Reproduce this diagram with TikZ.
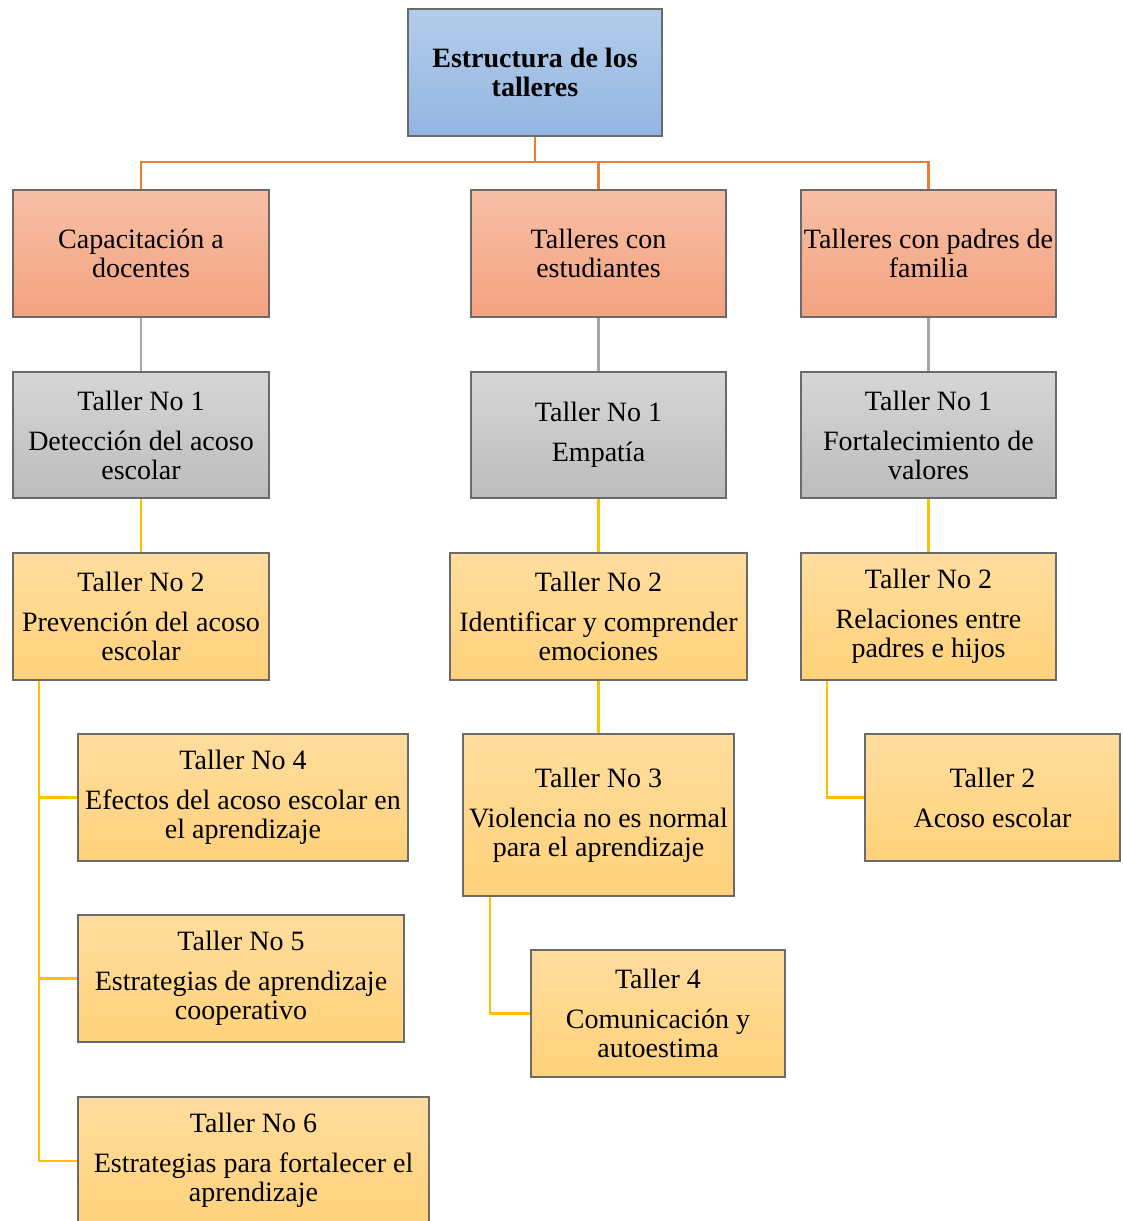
\documentclass[tikz,border=0pt]{standalone}
\usepackage{fontspec}
\setmainfont{Liberation Serif}
\usetikzlibrary{fit}
\definecolor{bordc}{HTML}{6A6A6A}
\definecolor{blueT}{HTML}{B3CCEA}
\definecolor{blueB}{HTML}{93B6E2}
\definecolor{orT}{HTML}{F7BFA6}
\definecolor{orB}{HTML}{F4A27F}
\definecolor{grT}{HTML}{D6D6D6}
\definecolor{grB}{HTML}{BCBCBC}
\definecolor{yeT}{HTML}{FFDD9E}
\definecolor{yeB}{HTML}{FFD27A}
\definecolor{lnOr}{HTML}{ED7D31}
\definecolor{lnGr}{HTML}{A5A5A5}
\definecolor{lnYe}{HTML}{FFC000}
\tikzset{
  x=0.75pt, y=-0.75pt,
  txt/.style={inner sep=0pt, align=center, font=\fontsize{21}{21.75}\selectfont},
  box/.style={draw=bordc, line width=0.8pt, inner sep=0pt},
  bluebox/.style={box, top color=blueT, bottom color=blueB},
  orbox/.style={box, top color=orT, bottom color=orB},
  grbox/.style={box, top color=grT, bottom color=grB},
  yebox/.style={box, top color=yeT, bottom color=yeB},
  lor/.style={draw=lnOr, line width=2.2pt},
  lgr/.style={draw=lnGr, line width=1.6pt},
  lye/.style={draw=lnYe, line width=2.2pt},
}
\newcommand{\gp}{\\[8.25pt]}
\newcommand{\bx}[5]{\node[#1, fit={#3}, label={[txt]center:{#4}}] (#2) {};}
\begin{document}
\begin{tikzpicture}
\clip (0,0) rectangle (1123,1221);
\fill[white] (0,0) rectangle (1123,1221);
% boxes
\bx{bluebox}{top}{(408,9)(662,136)}{\bfseries Estructura de los\\\bfseries talleres}{}
\bx{orbox}{o1}{(13,190)(269,317)}{Capacitación a\\docentes}{}
\bx{orbox}{o2}{(471,190)(726,317)}{Talleres con\\estudiantes}{}
\bx{orbox}{o3}{(801,190)(1056,317)}{Talleres con padres de\\familia}{}
\bx{grbox}{g1}{(13,372)(269,498)}{Taller No 1\gp Detección del acoso\\escolar}{}
\bx{grbox}{g2}{(471,372)(726,498)}{Taller No 1\gp Empatía}{}
\bx{grbox}{g3}{(801,372)(1056,498)}{Taller No 1\gp Fortalecimiento de\\valores}{}
\bx{yebox}{y1}{(13,553)(269,680)}{Taller No 2\gp Prevención del acoso\\escolar}{}
\bx{yebox}{y2}{(450,553)(747,680)}{Taller No 2\gp Identificar y comprender\\emociones}{}
\bx{yebox}{y3}{(801,553)(1056,680)}{Taller No 2\gp Relaciones entre\\padres e hijos}{}
\bx{yebox}{t4}{(78,734)(408,861)}{Taller No 4\gp Efectos del acoso escolar en\\el aprendizaje}{}
\bx{yebox}{t5}{(78,915)(404,1042)}{Taller No 5\gp Estrategias de aprendizaje\\cooperativo}{}
\node[yebox, fit={(78,1097)(429,1225)}] (t6) {};
\node[txt] (t6t) at (253.5,1160) {Taller No 6\gp Estrategias para fortalecer el\\aprendizaje};
\bx{yebox}{m3}{(463,734)(734,896)}{Taller No 3\gp Violencia no es normal\\para el aprendizaje}{}
\bx{yebox}{m4}{(531,950)(785,1077)}{Taller 4\gp Comunicación y\\autoestima}{}
\bx{yebox}{r2}{(865,734)(1120,861)}{Taller 2\gp Acoso escolar}{}
% orange connectors
\coordinate (hb) at (535,162);
\draw[lor] (top.south) -- (hb);
\draw[lor] (o1.north) |- (hb) -| (o3.north);
\draw[lor] (o2.north) -- (o2.north |- hb);
% gray connectors
\draw[lgr] (o1.south) -- (g1.north);
\draw[lgr] (o2.south) -- (g2.north);
\draw[lgr] (o3.south) -- (g3.north);
% yellow connectors
\draw[lye] (g1.south) -- (y1.north);
\draw[lye] (g2.south) -- (y2.north);
\draw[lye] (g3.south) -- (y3.north);
\draw[lye] (y2.south) -- (m3.north);
\coordinate (lb) at (39,680);
\coordinate (l6) at (78,1161);
\draw[lye] (lb) |- (l6);
\draw[lye] (lb |- t4.west) -- (t4.west);
\draw[lye] (lb |- t5.west) -- (t5.west);
\coordinate (mb) at (490,896);
\draw[lye] (mb) |- (m4.west);
\coordinate (rb) at (827,680);
\draw[lye] (rb) |- (r2.west);
% redraw box borders over connector ends
\foreach \n in {top,o1,o2,o3,g1,g2,g3,y1,y2,y3,t4,t5,t6,m3,m4,r2}{\draw[bordc, line width=0.8pt] (\n.north west) rectangle (\n.south east);}
\end{tikzpicture}
\end{document}
